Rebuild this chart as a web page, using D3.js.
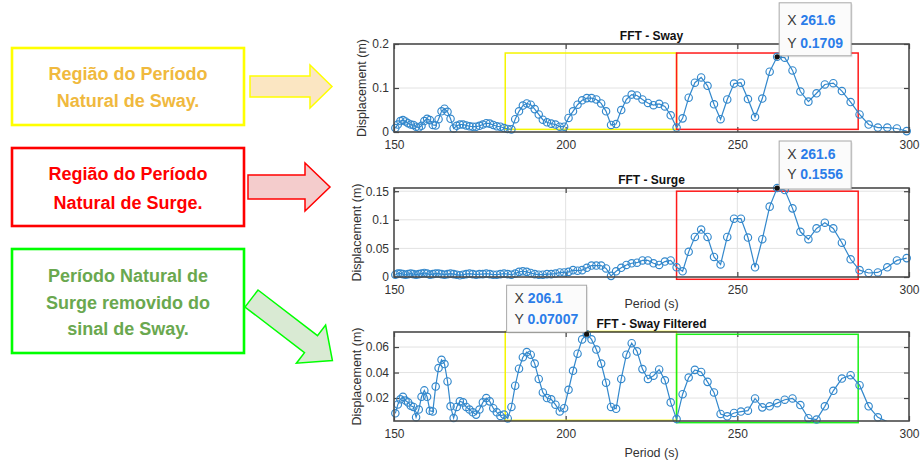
<!DOCTYPE html>
<html>
<head>
<meta charset="utf-8">
<script src="https://cdn.jsdelivr.net/npm/d3@7"></script>
<style>
  body { margin: 0; background: #fff; }
  svg { display: block; font-family: "Liberation Sans", Arial, sans-serif; }
</style>
</head>
<body>
<svg id="fig" width="921" height="460"></svg>
<script>
// FFT period grid (s)
const periods = [
  150.39, 151.12, 151.85, 152.60, 153.35, 154.11, 154.88, 155.65, 156.43, 157.22,
  158.02, 158.83, 159.64, 160.46, 161.30, 162.14, 162.98, 163.84, 164.71, 165.59,
  166.47, 167.37, 168.27, 169.18, 170.11, 171.04, 171.99, 172.94, 173.91, 174.89,
  175.88, 176.88, 177.89, 178.91, 179.94, 180.99, 182.05, 183.12, 184.20, 185.30,
  186.41, 187.53, 188.67, 189.82, 190.98, 192.16, 193.35, 194.56, 195.79, 197.03,
  198.28, 199.55, 200.84, 202.14, 203.46, 204.80, 206.16, 207.53, 208.93, 210.34,
  211.77, 213.22, 214.69, 216.18, 217.69, 219.23, 220.78, 222.36, 223.96, 225.58,
  227.23, 228.90, 230.59, 232.31, 234.06, 235.83, 237.63, 239.46, 241.32, 243.20,
  245.12, 247.06, 249.04, 251.05, 253.09, 255.16, 257.27, 259.42, 261.60, 263.81,
  266.07, 268.36, 270.70, 273.07, 275.49, 277.95, 280.45, 283.00, 285.60, 288.24,
  290.93, 293.68, 296.48, 299.33
];

const swayAmp = [
  0.009, 0.017, 0.025, 0.027, 0.024, 0.020, 0.017, 0.016, 0.012, 0.010,
  0.014, 0.025, 0.030, 0.027, 0.016, 0.015, 0.029, 0.047, 0.053, 0.046,
  0.030, 0.008, 0.014, 0.017, 0.017, 0.015, 0.013, 0.012, 0.012, 0.014,
  0.017, 0.020, 0.019, 0.016, 0.013, 0.012, 0.009, 0.007, 0.006, 0.029,
  0.047, 0.060, 0.065, 0.062, 0.052, 0.040, 0.028, 0.022, 0.019, 0.017,
  0.012, 0.012, 0.032, 0.047, 0.062, 0.072, 0.077, 0.077, 0.074, 0.065,
  0.047, 0.016, 0.018, 0.050, 0.074, 0.085, 0.083, 0.074, 0.066, 0.061,
  0.064, 0.058, 0.038, 0.010, 0.031, 0.078, 0.112, 0.124, 0.105, 0.063,
  0.029, 0.074, 0.110, 0.112, 0.075, 0.034, 0.076, 0.137, 0.1709, 0.169,
  0.140, 0.092, 0.069, 0.088, 0.108, 0.111, 0.093, 0.068, 0.040, 0.017,
  0.010, 0.010, 0.008, 0.002
];

const surgeAmp = [
  0.004, 0.006, 0.006, 0.005, 0.004, 0.005, 0.006, 0.005, 0.004, 0.005,
  0.006, 0.007, 0.006, 0.004, 0.005, 0.006, 0.006, 0.005, 0.004, 0.005,
  0.006, 0.005, 0.004, 0.003, 0.004, 0.005, 0.006, 0.005, 0.004, 0.005,
  0.005, 0.006, 0.005, 0.004, 0.004, 0.005, 0.006, 0.005, 0.004, 0.006,
  0.009, 0.010, 0.009, 0.007, 0.005, 0.004, 0.004, 0.005, 0.005, 0.006,
  0.008, 0.008, 0.009, 0.012, 0.011, 0.012, 0.016, 0.020, 0.020, 0.020,
  0.015, 0.002, 0.010, 0.016, 0.021, 0.024, 0.025, 0.029, 0.029, 0.024,
  0.021, 0.027, 0.029, 0.017, 0.010, 0.044, 0.070, 0.083, 0.070, 0.035,
  0.022, 0.070, 0.102, 0.102, 0.069, 0.017, 0.066, 0.123, 0.1556, 0.152,
  0.120, 0.079, 0.066, 0.085, 0.095, 0.085, 0.060, 0.031, 0.012, 0.007,
  0.008, 0.017, 0.029, 0.033
];

const swayFilteredAmp = [
  0.008, 0.015, 0.019, 0.021, 0.018, 0.0166, 0.014, 0.013, 0.005, 0.011,
  0.021, 0.026, 0.021, 0.010, 0.0095, 0.029, 0.0435, 0.050, 0.0467, 0.033,
  0.0135, 0.0043, 0.013, 0.0174, 0.0166, 0.013, 0.011, 0.0088, 0.007, 0.011,
  0.0166, 0.020, 0.0174, 0.012, 0.0088, 0.006, 0.007, 0.004, 0.013, 0.0297,
  0.043, 0.052, 0.056, 0.054, 0.047, 0.035, 0.0244, 0.020, 0.019, 0.0148,
  0.0095, 0.012, 0.0265, 0.0414, 0.0548, 0.066, 0.07007, 0.066, 0.058, 0.047,
  0.032, 0.013, 0.0116, 0.035, 0.054, 0.063, 0.0566, 0.0427, 0.035, 0.0375,
  0.0424, 0.0339, 0.0166, 0.0035, 0.023, 0.0361, 0.0421, 0.0405, 0.0327, 0.0244,
  0.0075, 0.0057, 0.0083, 0.0094, 0.0101, 0.0197, 0.0127, 0.0135, 0.016, 0.0187,
  0.0197, 0.0145, 0.0042, 0.0031, 0.0135, 0.0257, 0.0353, 0.0379, 0.0301, 0.0135,
  0.0049, 0.0015, 0.001, 0.001
];

const periodTicks = [150, 200, 250, 300];
const swayTicks = [0, 0.1, 0.2];
const surgeTicks = [0, 0.05, 0.1, 0.15];
const filteredTicks = [0.02, 0.04, 0.06];

// highlighted period bands (s)
const swayBand = [182.4, 232.3];
const surgeBand = [232.3, 285.2];

// data tips
const swayTip = [261.6, 0.1709];
const surgeTip = [261.6, 0.1556];
const filteredTip = [206.1, 0.07007];

const svg = d3.select('#fig');
const blue = '#3388cc';
const x = d3.scaleLinear().domain([150, 300]).range([394, 909]);

function drawPanel(p) {
  const y = d3.scaleLinear().domain(p.yDomain).range([p.bottom, p.top]);
  const g = svg.append('g');
  const x0 = x.range()[0], x1 = x.range()[1];

  svg.append('clipPath').attr('id', 'clip' + p.id)
    .append('rect')
    .attr('x', x0).attr('y', p.top)
    .attr('width', x1 - x0).attr('height', p.bottom - p.top);

  // grid
  g.append('g').selectAll('line')
    .data(periodTicks.filter(t => t > 150 && t < 300))
    .join('line')
    .attr('x1', d => x(d)).attr('x2', d => x(d))
    .attr('y1', p.top).attr('y2', p.bottom)
    .attr('stroke', '#e2e2e2');
  g.append('g').selectAll('line')
    .data(p.yTicks.filter(t => y(t) > p.top + 2 && y(t) < p.bottom - 2))
    .join('line')
    .attr('x1', x0).attr('x2', x1)
    .attr('y1', d => y(d)).attr('y2', d => y(d))
    .attr('stroke', '#e2e2e2');

  // axes (ticks point inwards, like matlab)
  const fmt = d => (p.hideX && p.hideX.includes(d)) ? '' : String(d);
  const ax = g.append('g')
    .attr('font-family', '"Liberation Sans", Arial, sans-serif');
  ax.append('g').attr('transform', `translate(0,${p.bottom})`)
    .call(d3.axisBottom(x).tickValues(periodTicks).tickFormat(fmt)
      .tickSizeInner(-5).tickSizeOuter(0).tickPadding(8));
  ax.append('g').attr('transform', `translate(0,${p.top})`)
    .call(d3.axisTop(x).tickValues(periodTicks).tickFormat('')
      .tickSizeInner(-5).tickSizeOuter(0));
  ax.append('g').attr('transform', `translate(${x0},0)`)
    .call(d3.axisLeft(y).tickValues(p.yTicks).tickFormat(d => String(d))
      .tickSizeInner(-5).tickSizeOuter(0).tickPadding(5));
  ax.append('g').attr('transform', `translate(${x1},0)`)
    .call(d3.axisRight(y).tickValues(p.yTicks).tickFormat('')
      .tickSizeInner(-5).tickSizeOuter(0));
  ax.selectAll('.domain').remove();
  ax.selectAll('.tick line').attr('stroke', '#444').attr('stroke-width', 1.2);
  ax.selectAll('.tick text').attr('fill', '#333').attr('font-size', 12);

  // highlighted bands
  p.bands.forEach(b => {
    g.append('rect')
      .attr('x', x(b.range[0])).attr('y', y(b.y1))
      .attr('width', x(b.range[1]) - x(b.range[0]))
      .attr('height', y(b.y0) - y(b.y1))
      .attr('fill', 'none').attr('stroke', b.color).attr('stroke-width', 1.5);
  });

  // series
  const pts = periods.map((t, i) => [t, p.values[i]]);
  g.append('path')
    .datum(pts)
    .attr('clip-path', `url(#clip${p.id})`)
    .attr('fill', 'none').attr('stroke', blue).attr('stroke-width', 1.2)
    .attr('d', d3.line().x(d => x(d[0])).y(d => y(d[1])));
  g.append('g').selectAll('circle')
    .data(pts.filter(d => d[1] >= p.yDomain[0] && d[1] <= p.yDomain[1]))
    .join('circle')
    .attr('cx', d => x(d[0])).attr('cy', d => y(d[1])).attr('r', 3.7)
    .attr('fill', 'none').attr('stroke', blue).attr('stroke-width', 1.15);

  // box
  g.append('rect')
    .attr('x', x0).attr('y', p.top)
    .attr('width', x1 - x0).attr('height', p.bottom - p.top)
    .attr('fill', 'none').attr('stroke', '#4a4a4a').attr('stroke-width', 1.6);

  // labels
  g.append('text')
    .attr('x', (x0 + x1) / 2).attr('y', p.top - 4)
    .attr('text-anchor', 'middle').attr('font-size', 12).attr('font-weight', 'bold')
    .attr('fill', '#111').text(p.title);
  g.append('text')
    .attr('transform', `translate(${p.ylabelX},${(p.top + p.bottom) / 2}) rotate(-90)`)
    .attr('text-anchor', 'middle').attr('dominant-baseline', 'central')
    .attr('font-size', 12.5).attr('fill', '#333').text('Displacement (m)');
  if (p.xlabelY) {
    g.append('text')
      .attr('x', (x0 + x1) / 2).attr('y', p.xlabelY)
      .attr('text-anchor', 'middle').attr('font-size', 12.5).attr('fill', '#333')
      .text('Period (s)');
  }

  return { y: y, tip: p.tip, tipBox: p.tipBox };
}

function drawTip(panel) {
  const t = panel.tip, b = panel.tipBox;
  const px = x(t[0]), py = panel.y(t[1]);
  const bx = px + b.dx, by = py + b.dy;
  const g = svg.append('g');
  g.append('rect')
    .attr('x', bx + 1.5).attr('y', by + 1.5).attr('width', b.w).attr('height', b.h)
    .attr('fill', '#000').attr('opacity', 0.08);
  g.append('rect')
    .attr('x', bx).attr('y', by).attr('width', b.w).attr('height', b.h)
    .attr('fill', '#fbfbfb').attr('stroke', '#a8a8a8').attr('stroke-width', 1);
  [['X', t[0]], ['Y', t[1]]].forEach((row, i) => {
    const txt = g.append('text')
      .attr('x', bx + 8).attr('y', by + b.lines[i])
      .attr('font-size', 14);
    txt.append('tspan').attr('fill', '#3a3a3a').text(row[0] + ' ');
    txt.append('tspan').attr('fill', '#2b7de9').attr('font-weight', 'bold').text(String(row[1]));
  });
  g.append('circle').attr('cx', px).attr('cy', py).attr('r', 2.6).attr('fill', '#111');
}

const p1 = drawPanel({
  id: 1, top: 44, bottom: 132, yDomain: [0, 0.2], yTicks: swayTicks,
  values: swayAmp, title: 'FFT - Sway', ylabelX: 362,
  bands: [
    { range: swayBand, y0: 0.006, y1: 0.1795, color: '#f5f500' },
    { range: surgeBand, y0: 0.006, y1: 0.1795, color: '#ff1a1a' }
  ],
  tip: swayTip, tipBox: { dx: 2, dy: -54, w: 72, h: 53, lines: [22, 45] }
});

// the "200" label of this panel is hidden behind the filtered panel's data tip
const p2 = drawPanel({
  id: 2, top: 188, bottom: 277, yDomain: [0, 0.1556], yTicks: surgeTicks,
  values: surgeAmp, title: 'FFT - Surge', ylabelX: 357, xlabelY: 308, hideX: [200],
  bands: [
    { range: surgeBand, y0: -0.004, y1: 0.150, color: '#ff1a1a' }
  ],
  tip: surgeTip, tipBox: { dx: 2, dy: -47, w: 72, h: 48, lines: [18, 38] }
});

const p3 = drawPanel({
  id: 3, top: 332, bottom: 421, yDomain: [0.002, 0.0718], yTicks: filteredTicks,
  values: swayFilteredAmp, title: 'FFT - Sway Filtered', ylabelX: 357, xlabelY: 457,
  bands: [
    { range: swayBand, y0: 0.0025, y1: 0.0722, color: '#f5f500' },
    { range: surgeBand, y0: 0.0007, y1: 0.0700, color: '#19f019' }
  ],
  tip: filteredTip, tipBox: { dx: -80, dy: -49, w: 80, h: 47, lines: [18, 39] }
});

[p1, p2, p3].forEach(drawTip);

// annotation boxes on the left
const notes = [
  { box: [12, 48, 232, 77], stroke: '#ffff00', color: '#f0b93e',
    lines: ['Região do Período', 'Natural de Sway.'], base: [79.5, 106.5] },
  { box: [12, 148, 232, 78], stroke: '#ff0000', color: '#ff0000',
    lines: ['Região do Período', 'Natural de Surge.'], base: [179.5, 208.5] },
  { box: [12, 249, 232, 104], stroke: '#00ff00', color: '#6aa84f',
    lines: ['Período Natural de', 'Surge removido do', 'sinal de Sway.'], base: [281.5, 308.5, 334.5] }
];
notes.forEach(n => {
  svg.append('rect')
    .attr('x', n.box[0]).attr('y', n.box[1]).attr('width', n.box[2]).attr('height', n.box[3])
    .attr('fill', '#fff').attr('stroke', n.stroke).attr('stroke-width', 2.6);
  n.lines.forEach((l, i) => {
    svg.append('text')
      .attr('x', n.box[0] + n.box[2] / 2).attr('y', n.base[i])
      .attr('text-anchor', 'middle').attr('font-size', 18).attr('font-weight', 'bold')
      .attr('fill', n.color).text(l);
  });
});

// block arrows
const arrows = [
  { at: [250, 86.5], rot: 0, body: 10.5, len: 60, head: 21.5, tip: 82, fill: '#fbe6c2', stroke: '#ffff00' },
  { at: [248, 187], rot: 0, body: 12, len: 57, head: 24, tip: 82, fill: '#f4cccc', stroke: '#ff0000' },
  { at: [251.5, 298.5], rot: 37.5, body: 10.7, len: 75, head: 24, tip: 102, fill: '#d9ead3', stroke: '#00ff00' }
];
arrows.forEach(a => {
  const shape = [[0, -a.body], [a.len, -a.body], [a.len, -a.head], [a.tip, 0],
                 [a.len, a.head], [a.len, a.body], [0, a.body]];
  svg.append('polygon')
    .attr('transform', `translate(${a.at[0]},${a.at[1]}) rotate(${a.rot})`)
    .attr('points', shape.map(q => q.join(',')).join(' '))
    .attr('fill', a.fill).attr('stroke', a.stroke).attr('stroke-width', 1.5);
});
</script>
</body>
</html>
